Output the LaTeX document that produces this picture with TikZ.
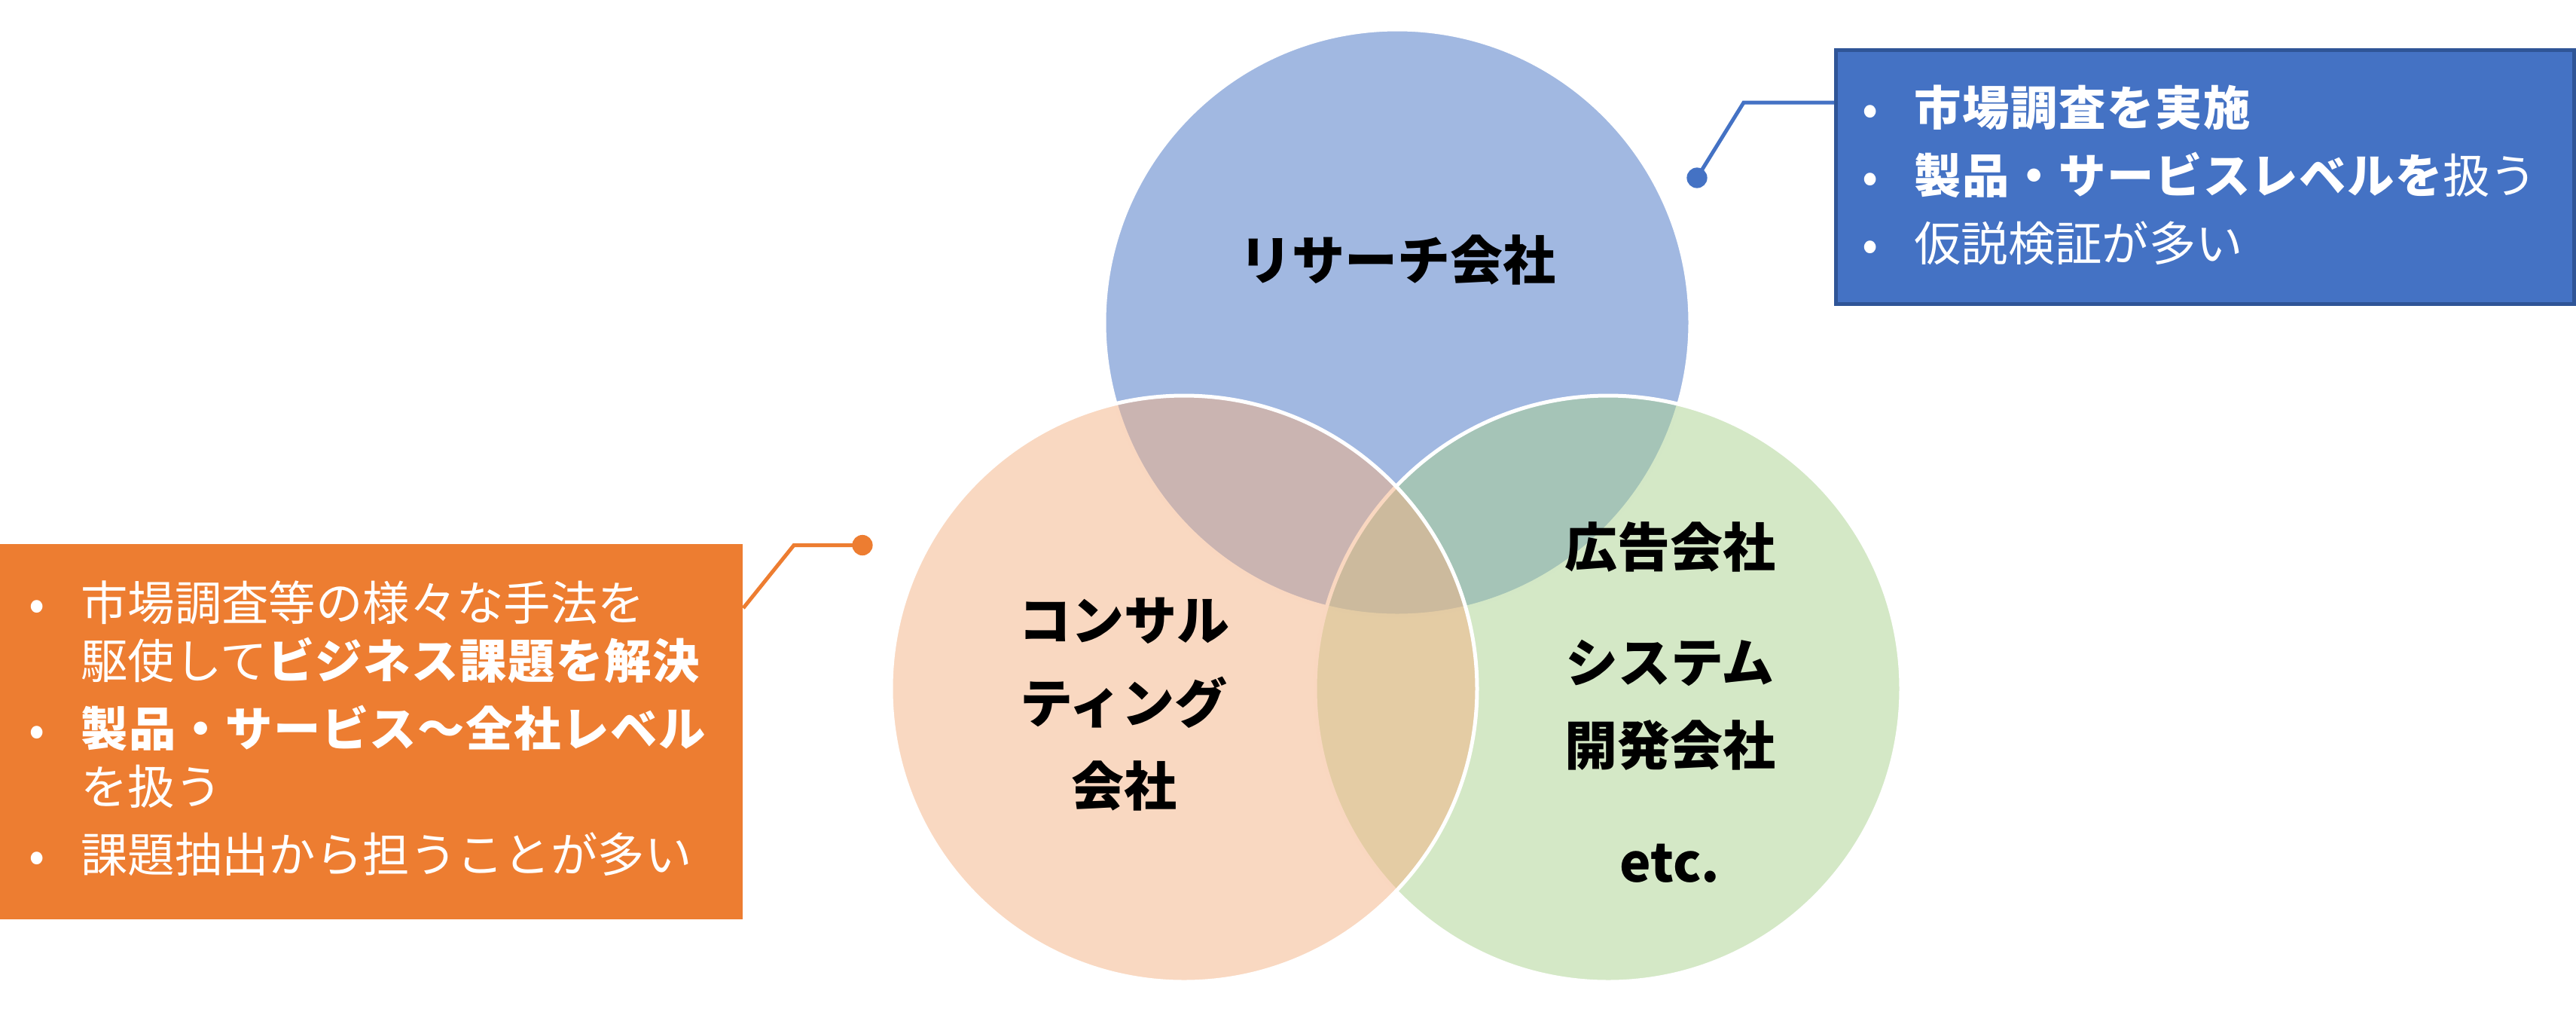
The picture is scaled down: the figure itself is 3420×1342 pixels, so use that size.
\documentclass[tikz,border=0pt]{standalone}
\usepackage{fontspec}
\setmainfont{Noto Sans CJK JP}
\usepackage{tikz}
\definecolor{accblue}{HTML}{4472C4}
\definecolor{accblueline}{HTML}{2F5597}
\definecolor{accorange}{HTML}{ED7D31}
\definecolor{softorange}{HTML}{F4B183}
\definecolor{softgreen}{HTML}{A9D18E}
\tikzset{
  venn/.style={circle, minimum size=194.5pt, inner sep=0pt, fill opacity=0.5, draw=white, line width=1.25pt},
  vennlabel/.style={font=\fontsize{17.5pt}{27.5pt}\selectfont\bfseries, align=center, inner sep=0pt},
  notebox/.style={rectangle, inner sep=0pt},
  notetext/.style={font=\fontsize{15.6pt}{19.25pt}\selectfont, text=white, align=left, inner sep=0pt, anchor=west},
  pinline/.style={line width=1.25pt}}
\newcommand\bul{\makebox[29.25pt]{•}}
\newcommand\ind{\hspace*{29.25pt}}
\newcommand\hot[1]{{\bfseries\addfontfeatures{LetterSpace=2.5}#1}}

\begin{document}
\begin{tikzpicture}[x=0.25pt, y=-0.25pt]
        \useasboundingbox (0,0) rectangle (3420,1342);

        \node[venn, fill=accblue] (research) at (1855,428) {};
        \node[venn, fill=softgreen] (others) at (2135,914) {};
        \node[venn, fill=softorange] (consult) at (1572,914) {};

        \node[vennlabel] (researchlabel) at (1855,345) {リサーチ会社};
        \node[vennlabel] (consultlabel) at (1492,935) {コンサル\\ティング\\会社};
        \node[vennlabel] (adlabel) at (2217,726) {広告会社};
        \node[vennlabel] (syslabel) at (2217,935.5) {システム\\開発会社};
        \node[vennlabel, anchor=base] (etclabel) at (2217,1170) {etc.};

        % notes
        \node[notebox, fill=accblue, draw=accblueline, line width=1.25pt, minimum width=245pt, minimum height=84.25pt] (researchbox) at (2927.5,235) {};
        \node[notetext] (researchtext) at (2423.5,232.5) {\bul\hot{市場調査を実施}\\[3.25pt]
          \bul\hot{製品・サービスレベルを}扱う\\[3.25pt]
          \bul 仮説検証が多い};

        \node[notebox, fill=accorange, minimum width=246.5pt, minimum height=124.5pt] (consultbox) at (493,971) {};
        \node[notetext] (consulttext) at (-10.5,966.5) {\bul 市場調査等の様々な手法を\\
          \ind 駆使して\hot{ビジネス課題を解決}\\[3.25pt]
          \bul\hot{製品・サービス～全社レベル}\\
          \ind を扱う\\[3.25pt]
          \bul 課題抽出から担うことが多い};

        \coordinate (researchpin) at (2253,236);
        \coordinate (researchbend) at (2315,136);
        \draw[pinline, accblue] (researchpin) -- (researchbend) -- (researchbend -| researchbox.west);
        \fill[accblue] (researchpin) circle (3.4pt);

        \coordinate (consultpin) at (1145,723.5);
        \coordinate (consultbend) at (1054,723.5);
        \coordinate (consultfoot) at (986,807);
        \draw[pinline, accorange] (consultpin) -- (consultbend) -- (consultbox.east |- consultfoot);
        \fill[accorange] (consultpin) circle (3.4pt);
\end{tikzpicture}
\end{document}
